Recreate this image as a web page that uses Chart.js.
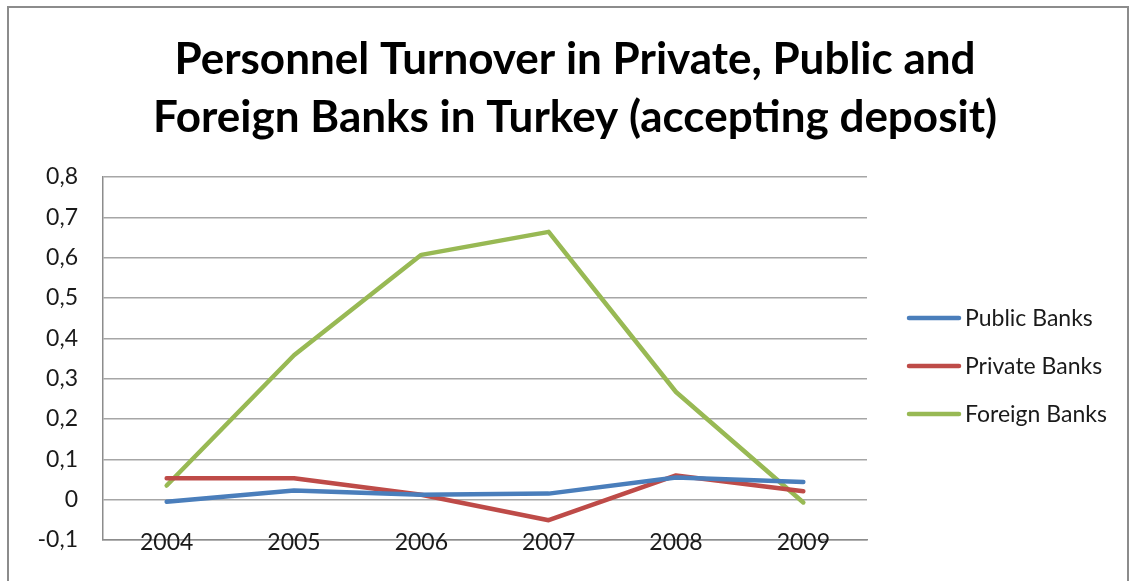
<!DOCTYPE html>
<html>
<head>
<meta charset="utf-8">
<script src="https://cdn.jsdelivr.net/npm/chart.js@4"></script>
<style>
  html, body { margin: 0; padding: 0; background: #ffffff; }
  #wrap { width: 1135px; height: 581px; position: relative; }
</style>
</head>
<body>
<div id="wrap"><canvas id="c" width="1135" height="581"></canvas></div>
<script>
// Personnel turnover ratios by bank group, 2004-2009
const years = ['2004', '2005', '2006', '2007', '2008', '2009'];
const publicBanks  = [-0.005, 0.023, 0.012, 0.015, 0.055, 0.044];
const privateBanks = [0.053, 0.053, 0.012, -0.051, 0.060, 0.021];
const foreignBanks = [0.035, 0.358, 0.607, 0.664, 0.267, -0.007];

const seriesNames  = ['Public Banks', 'Private Banks', 'Foreign Banks'];
const seriesColors = ['#4a7ebb', '#be4b48', '#98b954'];
const titleLines   = ['Personnel Turnover in Private, Public and', 'Foreign Banks in Turkey (accepting deposit)'];
const yMin = -0.1, yMax = 0.8, yStep = 0.1;

const FONT = 'Lato, "Open Sans", sans-serif';

// White page with a thin grey frame around the chart
const framePlugin = {
  id: 'frame',
  beforeDraw(chart) {
    const ctx = chart.ctx;
    ctx.save();
    ctx.fillStyle = '#ffffff';
    ctx.fillRect(0, 0, chart.width, chart.height);
    ctx.strokeStyle = '#8c8c8c';
    ctx.lineWidth = 2;
    ctx.strokeRect(8, 7, 1120, 640);
    ctx.restore();
  }
};

// Line-sample legend in the space reserved at the right of the plot area
const sideLegend = {
  id: 'sideLegend',
  afterDraw(chart) {
    const ctx = chart.ctx;
    const area = chart.chartArea;
    const x0 = area.right + 40;
    const top = area.top + 141;
    ctx.save();
    ctx.font = '23px ' + FONT;
    ctx.textBaseline = 'middle';
    ctx.textAlign = 'left';
    chart.data.datasets.forEach((ds, i) => {
      const y = top + i * 48;
      ctx.strokeStyle = ds.borderColor;
      ctx.lineWidth = 4.5;
      ctx.lineCap = 'round';
      ctx.beginPath();
      ctx.moveTo(x0 + 2, y);
      ctx.lineTo(x0 + 52, y);
      ctx.stroke();
      ctx.fillStyle = '#1a1a1a';
      ctx.fillText(ds.label, x0 + 58, y + 1);
    });
    ctx.restore();
  }
};

const seriesValues = [publicBanks, privateBanks, foreignBanks];

new Chart(document.getElementById('c'), {
  type: 'line',
  data: {
    labels: years,
    datasets: seriesValues.map((vals, i) => ({
      label: seriesNames[i],
      data: vals,
      borderColor: seriesColors[i],
      backgroundColor: seriesColors[i],
      borderWidth: 4.5,
      borderCapStyle: 'round',
      borderJoinStyle: 'round',
      pointRadius: 0,
      tension: 0,
      fill: false
    }))
  },
  options: {
    responsive: false,
    animation: false,
    devicePixelRatio: 1,
    layout: { padding: { left: 15, right: 0, top: 0, bottom: 0 } },
    plugins: {
      legend: { display: false },
      tooltip: { enabled: false },
      title: {
        display: true,
        text: titleLines,
        color: '#000000',
        font: { family: FONT, weight: 'bold', size: 44, lineHeight: '58px' },
        padding: { top: 31, bottom: 30 }
      }
    },
    scales: {
      x: {
        type: 'category',
        offset: true,
        afterFit(scale) { scale.height = 41; },
        grid: { display: true, color: 'rgba(0,0,0,0)', drawOnChartArea: false, drawTicks: false, offset: true },
        border: { display: true, color: '#8c8c8c', width: 1.5 },
        // mirrored labels are not clipped to the axis box, so they can straddle the axis line
        ticks: { color: '#1a1a1a', font: { family: FONT, size: 23, lineHeight: 1 }, mirror: true, padding: -14.5, maxRotation: 0 }
      },
      y: {
        min: yMin,
        max: yMax,
        afterFit(scale) { scale.width = 88; },
        grid: { color: '#a6a6a6', lineWidth: 1.5, drawTicks: false },
        border: { display: true, color: '#8c8c8c', width: 1.5 },
        ticks: {
          stepSize: yStep,
          color: '#1a1a1a',
          font: { family: FONT, size: 23 },
          padding: 25,
          callback: (v) => {
            const r = Math.round(v * 10) / 10;
            return (r === 0 ? '0' : r.toFixed(1)).replace('.', ',');
          }
        }
      },
      // empty axis that holds the legend column on the right
      legendSpace: {
        type: 'linear',
        position: 'right',
        display: true,
        afterFit(scale) { scale.width = 268; },
        grid: { display: false, drawOnChartArea: false },
        border: { display: false },
        ticks: { display: false }
      }
    }
  },
  plugins: [framePlugin, sideLegend]
});
</script>
</body>
</html>
